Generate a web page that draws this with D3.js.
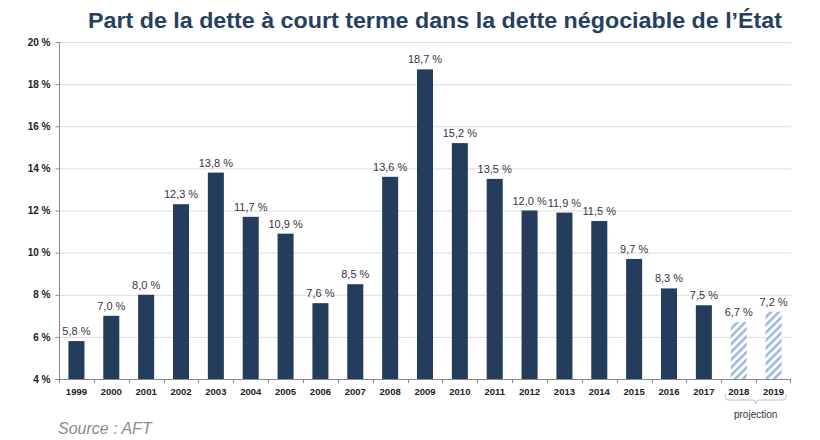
<!DOCTYPE html>
<html><head><meta charset="utf-8">
<script src="https://cdn.jsdelivr.net/npm/d3@7/dist/d3.min.js"></script>
<style>body{margin:0;background:#fff}svg{display:block}</style>
</head><body>
<script>
const years = ["1999","2000","2001","2002","2003","2004","2005","2006","2007","2008","2009","2010","2011","2012","2013","2014","2015","2016","2017","2018","2019"];
const values = [5.8,7.0,8.0,12.3,13.8,11.7,10.9,7.6,8.5,13.6,18.7,15.2,13.5,12.0,11.9,11.5,9.7,8.3,7.5,6.7,7.2];
const projectionYears = ["2018","2019"];
const yTicks = [4,6,8,10,12,14,16,18,20];

const W=820,H=440;
const svg=d3.select("body").append("svg").attr("width",W).attr("height",H);
const defs=svg.append("defs");
const pat=defs.append("pattern").attr("id","hatch").attr("patternUnits","userSpaceOnUse")
  .attr("width",5.5).attr("height",5.5).attr("patternTransform","rotate(45)");
pat.append("rect").attr("width",5.5).attr("height",5.5).attr("fill","#fff");
pat.append("rect").attr("x",0).attr("width",2.6).attr("height",5.5).attr("fill","#9dbadf");

const x0=59,x1=791,yTop=42,yBot=379;
const x=d3.scaleBand().domain(years).range([x0,x1]).paddingInner(0.54).paddingOuter(0.27);
const y=d3.scaleLinear().domain([4,20]).range([yBot,yTop]);

// title
svg.append("text").attr("x",88).attr("y",28).attr("textLength",694).attr("lengthAdjust","spacingAndGlyphs")
  .attr("font-family","Liberation Sans, Arial, sans-serif").attr("font-weight","bold").attr("font-size",22)
  .attr("fill","#26405f").text("Part de la dette à court terme dans la dette négociable de l’État");

// gridlines
svg.append("g").selectAll("line").data(yTicks.slice(1)).join("line")
  .attr("x1",x0).attr("x2",x1).attr("y1",d=>y(d)+0.5).attr("y2",d=>y(d)+0.5)
  .attr("stroke","#dcdcdc").attr("stroke-width",1);

// y axis
const ya=svg.append("g").attr("transform",`translate(${x0+0.5},0)`)
  .call(d3.axisLeft(y).tickValues(yTicks).tickSize(4).tickPadding(5).tickFormat(d=>d+" %"));
ya.select(".domain").attr("stroke","#8a8a8a").attr("d",`M-4,${yBot+0.5}H0V${yTop}`);
ya.selectAll(".tick line").attr("stroke","#8a8a8a");
ya.selectAll(".tick text").attr("font-family","Liberation Sans, Arial, sans-serif").attr("font-weight","bold")
  .attr("font-size",10).attr("fill","#222");

// bars
svg.append("g").selectAll("rect").data(years).join("rect")
  .attr("x",d=>x(d)).attr("width",x.bandwidth())
  .attr("y",(d,i)=>y(values[i])).attr("height",(d,i)=>yBot-y(values[i]))
  .attr("fill",d=>projectionYears.includes(d)?"url(#hatch)":"#243d5d");

// value labels
svg.append("g").selectAll("text").data(years).join("text")
  .attr("x",d=>x(d)+x.bandwidth()/2).attr("y",(d,i)=>y(values[i])-6)
  .attr("text-anchor","middle").attr("font-family","Liberation Sans, Arial, sans-serif").attr("font-size",11)
  .attr("fill","#3b3346").text((d,i)=>d3.format(".1f")(values[i]).replace(".",",")+" %");

// x axis
const xa=svg.append("g").attr("transform",`translate(0,${yBot+0.5})`).call(d3.axisBottom(x).tickSize(0).tickPadding(9));
xa.select(".domain").attr("stroke","#8a8a8a").attr("d",`M${x0},0H${x1}`);
xa.selectAll(".tick text").attr("font-family","Liberation Sans, Arial, sans-serif").attr("font-weight","bold")
  .attr("font-size",9.5).attr("fill","#222");
const step=x.step();
svg.append("g").selectAll("line").data(years).join("line")
  .attr("x1",d=>Math.round(x(d)-x.paddingInner()*step/2)+0.5).attr("x2",d=>Math.round(x(d)-x.paddingInner()*step/2)+0.5)
  .attr("y1",yBot).attr("y2",yBot+4).attr("stroke","#8a8a8a");
svg.append("line").attr("x1",x1-0.5).attr("x2",x1-0.5).attr("y1",yBot).attr("y2",yBot+4).attr("stroke","#8a8a8a");

// projection bracket
const bx0=x(projectionYears[0])-x.paddingInner()*step/2+4, bx1=x(projectionYears[1])+x.bandwidth()+x.paddingInner()*step/2-5;
const bm=(bx0+bx1)/2;
svg.append("path").attr("d",`M${bx0},394 V397 Q${bx0},400 ${bx0+3},400 H${bm-3} Q${bm},400 ${bm},404 Q${bm},400 ${bm+3},400 H${bx1-3} Q${bx1},400 ${bx1},397 V394`)
  .attr("fill","none").attr("stroke","#a9c2e2").attr("stroke-width",1);
svg.append("text").attr("x",bm).attr("y",418).attr("text-anchor","middle")
  .attr("font-family","Liberation Sans, Arial, sans-serif").attr("font-size",10).attr("fill","#333").text("projection");

// source
svg.append("text").attr("x",58).attr("y",434).attr("font-family","Liberation Sans, Arial, sans-serif")
  .attr("font-style","italic").attr("font-size",16).attr("fill","#8c8c8c").text("Source : AFT");
</script>
</body></html>
